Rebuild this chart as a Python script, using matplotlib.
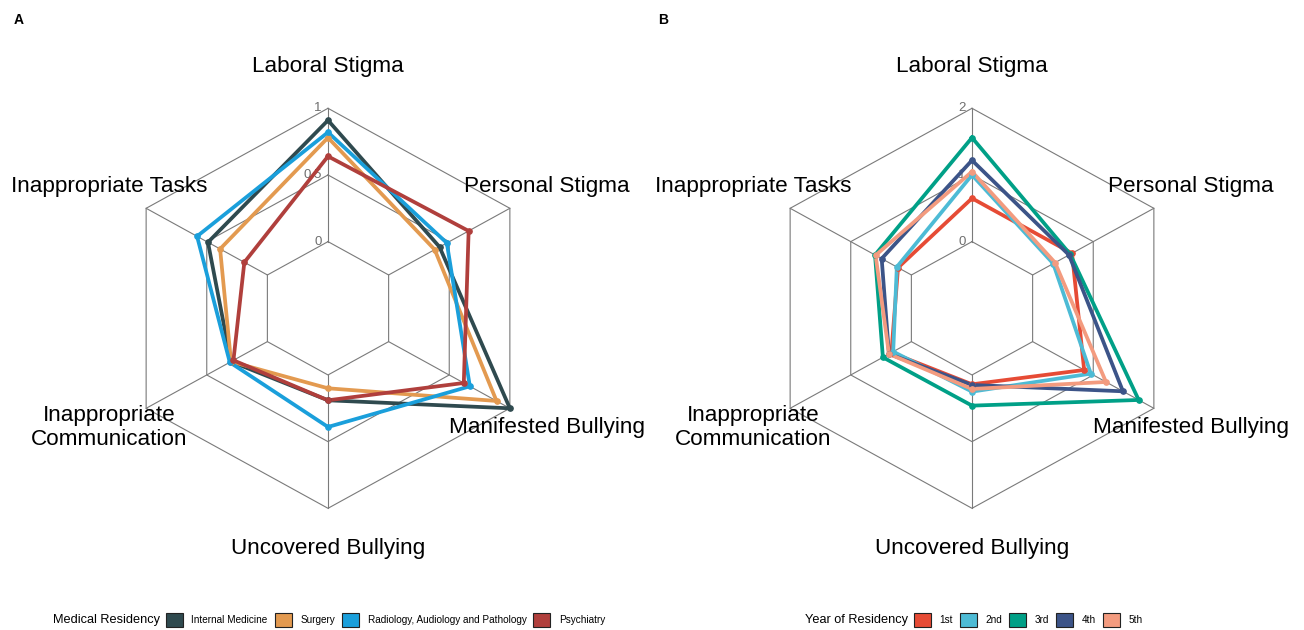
#!/usr/bin/env python3
import numpy as np
import matplotlib
matplotlib.use("Agg")
import matplotlib.pyplot as plt
from matplotlib.patches import Patch

plt.rcParams['font.family'] = ['Liberation Sans', 'DejaVu Sans']

axis_names = ['Laboral Stigma', 'Personal Stigma', 'Manifested Bullying',
              'Uncovered Bullying', 'Inappropriate\nCommunication', 'Inappropriate Tasks']

# panel A: by medical residency
groups_a = ['Internal Medicine', 'Surgery', 'Radiology, Audiology and Pathology', 'Psychiatry']
colors_a = ['#2F4A4F', '#E39A50', '#1A9FDB', '#B03F3C']
vals_internal = [0.91, 0.42, 1.00, 0.19, 0.30, 0.49]
vals_surgery = [0.78, 0.38, 0.89, 0.10, 0.30, 0.39]
vals_radiology = [0.82, 0.48, 0.67, 0.39, 0.31, 0.58]
vals_psychiatry = [0.64, 0.66, 0.62, 0.19, 0.28, 0.19]
grid_a = [0, 0.5, 1]
grid_labels_a = ['0', '0.5', '1']

# panel B: by year of residency
groups_b = ['1st', '2nd', '3rd', '4th', '5th']
colors_b = ['#E64B35', '#4DBBD5', '#00A087', '#3C5488', '#F39B7F']
vals_1st = [0.65, 0.65, 0.85, 0.14, 0.33, 0.22]
vals_2nd = [1.00, 0.34, 0.96, 0.25, 0.30, 0.24]
vals_3rd = [1.56, 0.62, 1.75, 0.46, 0.47, 0.60]
vals_4th = [1.22, 0.60, 1.49, 0.15, 0.37, 0.49]
vals_5th = [1.05, 0.37, 1.21, 0.21, 0.37, 0.59]
grid_b = [0, 1, 2]
grid_labels_b = ['0', '1', '2']

W, H = 1304, 630
fig = plt.figure(figsize=(W / 100, H / 100), dpi=100)

angles = np.arange(6) * np.pi / 3  # clockwise from top
# label positions as offsets from centre, in outer-radius units
label_pos = [(0, 1.21), (1.043, 0.607), (1.041, -0.598),
             (0, -1.2), (-1.043, -0.598), (-1.043, 0.607)]


def radar(cx_px, grid, grid_labels, series, colors):
    # axes: x range [-1.5,1.5] -> 630px, y range [-1.5,1.5] -> 600px
    cy_px = 308.3
    left = (cx_px - 315) / W
    bottom = (H - (cy_px + 300)) / H
    ax = fig.add_axes([left, bottom, 630 / W, 600 / H])
    ax.set_xlim(-1.5, 1.5)
    ax.set_ylim(-1.5, 1.5)
    ax.axis('off')

    gmin, gmax = grid[0], grid[-1]
    centre = gmin - (gmax - gmin) / 2

    def rad(v):
        return (np.asarray(v, dtype=float) - centre) / (gmax - centre)

    ang_closed = np.append(angles, angles[0])
    for g in grid:
        r = rad(g)
        ax.plot(r * np.sin(ang_closed), r * np.cos(ang_closed),
                color='#7a7a7a', lw=0.8, zorder=1)
    r0, r1 = rad(gmin), rad(gmax)
    for a in angles:
        ax.plot([r0 * np.sin(a), r1 * np.sin(a)], [r0 * np.cos(a), r1 * np.cos(a)],
                color='#7a7a7a', lw=0.8, zorder=1)
    for g, t in zip(grid, grid_labels):
        ax.text(-0.03, rad(g), t, ha='right', va='center', fontsize=9.5,
                color='#6e6e6e', zorder=2)

    for vals, c in zip(series, colors):
        r = rad(vals)
        xs = np.append(r * np.sin(angles), r[0] * np.sin(angles[0]))
        ys = np.append(r * np.cos(angles), r[0] * np.cos(angles[0]))
        ax.plot(xs, ys, color=c, lw=2.7, zorder=3, solid_joinstyle='miter')
        ax.plot(xs[:-1], ys[:-1], 'o', color=c, ms=3.8, zorder=4)

    for name, (lx, ly) in zip(axis_names, label_pos):
        ax.text(lx, ly, name, ha='center', va='center', fontsize=16.2,
                multialignment='center', linespacing=1.18)
    return ax


radar(328, grid_a, grid_labels_a,
      [vals_internal, vals_surgery, vals_radiology, vals_psychiatry], colors_a)
radar(972, grid_b, grid_labels_b,
      [vals_1st, vals_2nd, vals_3rd, vals_4th, vals_5th], colors_b)

fig.text(14 / W, 1 - 20 / H, 'A', fontsize=10, fontweight='bold', ha='left', va='center')
fig.text(658 / W, 1 - 20 / H, 'B', fontsize=10, fontweight='bold', ha='left', va='center')


def legend(title, title_right_px, groups, colors):
    ly = 1 - 620 / H
    fig.text(title_right_px / W, ly, title, fontsize=9.2, ha='right', va='center')
    handles = [Patch(facecolor=c, edgecolor='#222222', lw=0.8) for c in colors]
    fig.legend(handles, groups, loc='center left',
               bbox_to_anchor=(title_right_px / W + 6 / W, ly),
               ncol=len(groups), frameon=False, fontsize=7.2,
               borderpad=0, borderaxespad=0, handlelength=1.7, handleheight=1.7,
               handletextpad=0.85, columnspacing=0.7)


legend('Medical Residency', 160, groups_a, colors_a)
legend('Year of Residency', 908, groups_b, colors_b)

fig.savefig('out.png', dpi=100)
